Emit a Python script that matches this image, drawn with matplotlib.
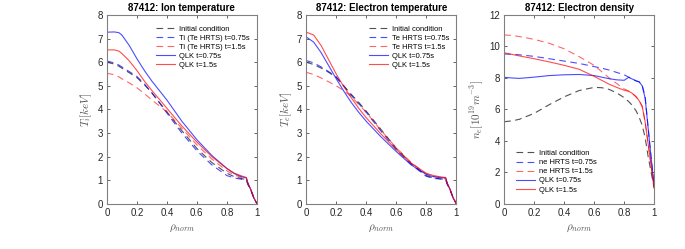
import matplotlib
matplotlib.use('Agg')
import matplotlib.pyplot as plt
import numpy as np

plt.rcParams['font.family'] = ['Liberation Sans', 'DejaVu Sans']
plt.rcParams['mathtext.fontset'] = 'cm'

shot = "87412"

# --- Ion temperature panel
rho_ti = [0.0, 0.05, 0.08, 0.1, 0.15, 0.2, 0.25, 0.3, 0.35, 0.4, 0.5, 0.6, 0.7, 0.8, 0.85, 0.9, 0.93, 0.94, 0.96, 0.98, 1.0]
ti_init = [6.0, 5.92, 5.83, 5.75, 5.55, 5.35, 5.05, 4.7, 4.3, 3.9, 3.1, 2.35, 1.75, 1.3, 1.15, 1.07, 1.03, 0.85, 0.58, 0.25, 0.02]
ti_hrts_075 = [6.05, 5.97, 5.88, 5.8, 5.6, 5.4, 5.08, 4.7, 4.28, 3.85, 3.0, 2.25, 1.65, 1.2, 1.1, 1.04, 1.0, 0.82, 0.58, 0.25, 0.02]
ti_hrts_15 = [5.53, 5.47, 5.38, 5.3, 5.12, 4.92, 4.67, 4.4, 4.15, 3.9, 3.2, 2.5, 1.9, 1.4, 1.22, 1.12, 1.06, 0.86, 0.6, 0.25, 0.02]
ti_qlk_075 = [7.27, 7.28, 7.25, 7.15, 6.7, 6.15, 5.65, 5.2, 4.8, 4.4, 3.5, 2.72, 2.05, 1.5, 1.28, 1.15, 1.1, 0.88, 0.6, 0.25, 0.02]
ti_qlk_15 = [6.52, 6.52, 6.47, 6.37, 6.05, 5.65, 5.2, 4.8, 4.43, 4.05, 3.3, 2.62, 2.0, 1.5, 1.3, 1.18, 1.12, 0.88, 0.6, 0.25, 0.02]

# --- Electron temperature panel
rho_te = [0.0, 0.05, 0.1, 0.15, 0.2, 0.25, 0.3, 0.35, 0.4, 0.5, 0.6, 0.7, 0.8, 0.85, 0.9, 0.93, 0.94, 0.96, 0.98, 1.0]
te_init = [6.0, 5.9, 5.75, 5.57, 5.36, 5.0, 4.64, 4.3, 3.93, 3.14, 2.36, 1.72, 1.2, 1.1, 1.06, 1.04, 0.85, 0.58, 0.25, 0.02]
te_hrts_075 = [6.07, 5.97, 5.8, 5.6, 5.38, 5.0, 4.6, 4.25, 3.88, 3.07, 2.3, 1.67, 1.17, 1.08, 1.05, 1.02, 0.83, 0.58, 0.25, 0.02]
te_hrts_15 = [5.57, 5.48, 5.33, 5.17, 5.0, 4.8, 4.55, 4.22, 3.88, 3.1, 2.38, 1.75, 1.27, 1.16, 1.1, 1.06, 0.86, 0.6, 0.25, 0.02]
te_qlk_075 = [7.07, 6.85, 6.4, 5.85, 5.3, 4.78, 4.3, 3.88, 3.5, 2.83, 2.22, 1.65, 1.25, 1.15, 1.12, 1.1, 0.88, 0.6, 0.25, 0.02]
te_qlk_15 = [7.27, 7.15, 6.7, 6.1, 5.5, 4.97, 4.5, 4.05, 3.65, 2.95, 2.3, 1.72, 1.3, 1.2, 1.14, 1.12, 0.88, 0.6, 0.25, 0.02]

# --- Electron density panel
rho_ne = [0.0, 0.05, 0.1, 0.2, 0.3, 0.4, 0.5, 0.6, 0.65, 0.7, 0.75, 0.8, 0.83, 0.85, 0.88, 0.9, 0.92, 0.94, 0.96, 0.98, 1.0]
ne_init = [5.22, 5.27, 5.37, 5.75, 6.3, 6.8, 7.2, 7.4, 7.38, 7.27, 7.05, 6.75, 6.5, 6.3, 5.9, 5.5, 5.0, 4.2, 3.0, 2.0, 1.0]
ne_hrts_075 = [9.52, 9.5, 9.47, 9.37, 9.22, 9.07, 8.92, 8.72, 8.62, 8.5, 8.35, 8.2, 8.05, 7.95, 7.8, 7.75, 7.55, 6.8, 4.8, 2.9, 1.1]
ne_hrts_15 = [10.73, 10.7, 10.63, 10.45, 10.2, 9.85, 9.35, 8.8, 8.4, 8.0, 7.65, 7.3, 7.17, 7.05, 6.8, 6.55, 6.2, 5.2, 3.8, 2.4, 1.0]
ne_qlk_075 = [8.04, 8.0, 7.97, 8.05, 8.15, 8.2, 8.22, 8.15, 8.05, 7.95, 7.88, 7.85, 8.04, 7.95, 7.82, 7.75, 7.5, 6.7, 4.8, 2.9, 1.1]
ne_qlk_15 = [9.6, 9.5, 9.4, 9.22, 9.02, 8.8, 8.55, 8.1, 7.85, 7.6, 7.4, 7.22, 7.15, 7.05, 6.8, 6.55, 6.2, 5.2, 3.8, 2.4, 1.0]

panels = [
    (shot + ": Ion temperature", r"$T_i[keV]$", rho_ti,
     [ti_init, ti_hrts_075, ti_hrts_15, ti_qlk_075, ti_qlk_15],
     ["Initial condition", "Ti (Te HRTS) t=0.75s", "Ti (Te HRTS) t=1.5s", "QLK t=0.75s", "QLK t=1.5s"],
     (0, 8), ('upper left', (0.33, 0.945))),
    (shot + ": Electron temperature", r"$T_e[keV]$", rho_te,
     [te_init, te_hrts_075, te_hrts_15, te_qlk_075, te_qlk_15],
     ["Initial condition", "Te HRTS t=0.75s", "Te HRTS t=1.5s", "QLK t=0.75s", "QLK t=1.5s"],
     (0, 8), ('upper left', (0.42, 0.945))),
    (shot + ": Electron density", r"$n_e[10^{19}m^{-3}]$", rho_ne,
     [ne_init, ne_hrts_075, ne_hrts_15, ne_qlk_075, ne_qlk_15],
     ["Initial condition", "ne HRTS t=0.75s", "ne HRTS t=1.5s", "QLK t=0.75s", "QLK t=1.5s"],
     (0, 12), ('lower left', (0.08, 0.055))),
]

styles = [
    dict(color='#333333', ls=(0, (6, 4)), alpha=0.85),
    dict(color='#0000ff', ls=(0, (6, 4)), alpha=0.7),
    dict(color='#ff0000', ls=(0, (6, 4)), alpha=0.6),
    dict(color='#0000ff', ls='-', alpha=0.7),
    dict(color='#ff0000', ls='-', alpha=0.7),
]

fig = plt.figure(figsize=(6.85, 2.49), dpi=100)
lefts = [0.156, 0.447, 0.736]
spine_col = '#808080'

for left, (title, ylabel, rho, series, labels, ylim, (loc, anchor)) in zip(lefts, panels):
    ax = fig.add_axes([left, 0.181, 0.219, 0.759])
    for y, lab, st in zip(series, labels, styles):
        ax.plot(rho, y, lw=0.8, label=lab, **st)
    ax.set_xlim(0, 1)
    ax.set_ylim(*ylim)
    ax.set_xticks(np.arange(0, 1.01, 0.2))
    ax.set_xticklabels(['0', '0.2', '0.4', '0.6', '0.8', '1'])
    ax.tick_params(direction='in', length=2, width=0.5, labelsize=7, colors='#262626',
                   top=True, right=True, pad=3)
    for s in ax.spines.values():
        s.set_color(spine_col)
        s.set_linewidth(0.8)
    ax.set_title(title, fontsize=7, fontweight='bold', pad=2.5)
    ax.set_ylabel(ylabel, fontsize=8, color='#555555', labelpad=2)
    ax.set_xlabel(r"$\rho_{norm}$", fontsize=8, color='#555555', labelpad=3)
    ax.legend(loc=loc, bbox_to_anchor=anchor, frameon=False, fontsize=5.4, handlelength=2.5,
              labelspacing=0.25, handletextpad=0.5, borderpad=0, borderaxespad=0)

fig.savefig('out.png', dpi=100)
